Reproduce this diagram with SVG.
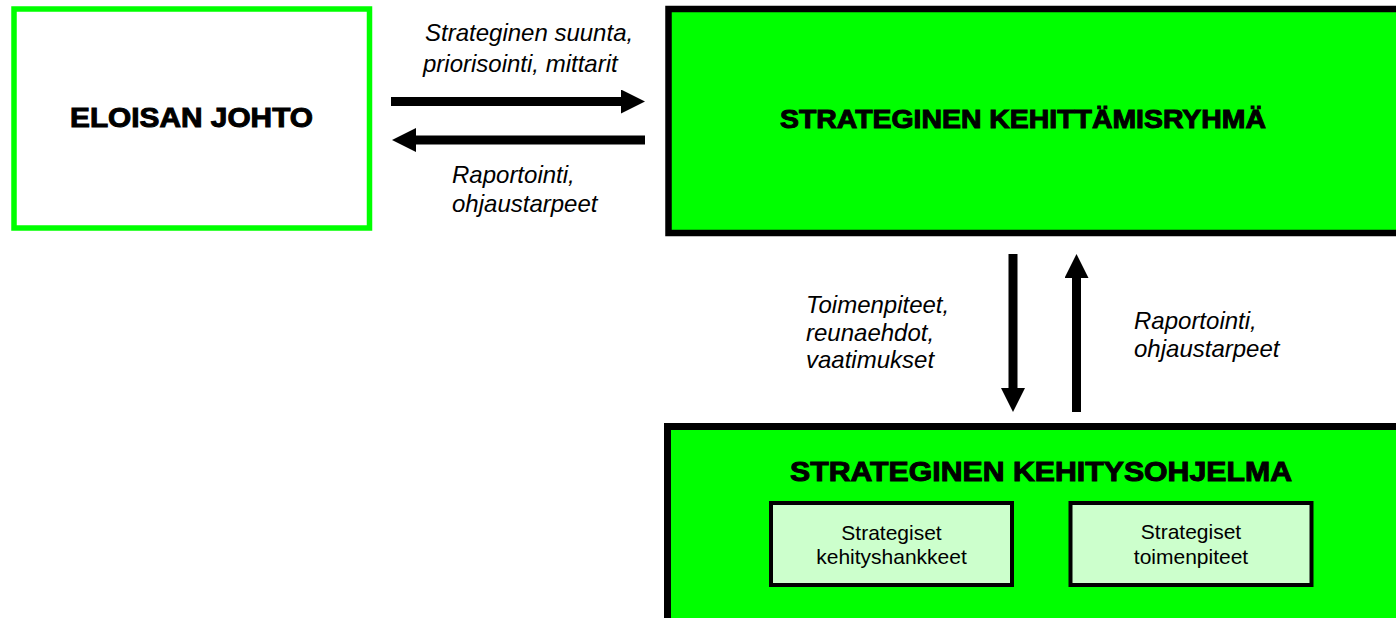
<svg xmlns="http://www.w3.org/2000/svg" width="1396" height="618" viewBox="0 0 1396 618">
<style>
.title{font-family:"Liberation Sans",Arial,sans-serif;font-weight:bold;fill:#000;stroke:#000;stroke-width:1;text-anchor:middle}
.lbl{font-family:"Liberation Sans",Arial,sans-serif;font-style:italic;font-size:24px;fill:#000}
.sub{font-family:"Liberation Sans",Arial,sans-serif;font-size:21px;fill:#000;text-anchor:middle}
.green{fill:#00FF00;stroke:#000}
.inner{fill:#CCFFCC;stroke:#000;stroke-width:4}
.conn{stroke:#000;stroke-width:9;fill:none}
</style>
<defs>
<marker id="head" markerUnits="userSpaceOnUse" markerWidth="24" markerHeight="24" refX="0" refY="12" orient="auto" viewBox="0 0 24 24">
<path d="M0,0 L24,12 L0,24 Z" fill="#000"/>
</marker>
</defs>
<rect width="1396" height="618" fill="#fff"/>
<g id="eloisan-johto">
<rect x="14" y="9" width="355.5" height="219" fill="#fff" stroke="#00FF00" stroke-width="5.5"/>
<text class="title" x="191.5" y="127" font-size="27.5" textLength="243" lengthAdjust="spacingAndGlyphs">ELOISAN JOHTO</text>
</g>
<g id="kehittamisryhma">
<rect class="green" x="668.5" y="9" width="760" height="224" stroke-width="6.5"/>
<text class="title" x="1023" y="127.5" font-size="26" textLength="486" lengthAdjust="spacingAndGlyphs">STRATEGINEN KEHITTÄMISRYHMÄ</text>
</g>
<g id="kehitysohjelma">
<rect class="green" x="667.5" y="426.5" width="760" height="230" stroke-width="7"/>
<text class="title" x="1041" y="481" font-size="27.5" textLength="502" lengthAdjust="spacingAndGlyphs">STRATEGINEN KEHITYSOHJELMA</text>
</g>
<g id="kehityshankkeet">
<rect class="inner" x="771" y="503" width="241" height="82"/>
<text class="sub" x="891.5" y="540">Strategiset</text>
<text class="sub" x="891.5" y="564">kehityshankkeet</text>
</g>
<g id="toimenpiteet">
<rect class="inner" x="1070.5" y="503" width="241" height="82"/>
<text class="sub" x="1191" y="539">Strategiset</text>
<text class="sub" x="1191" y="564">toimenpiteet</text>
</g>
<g id="connectors">
<line class="conn" x1="391" y1="101.5" x2="621" y2="101.5" marker-end="url(#head)"/>
<line class="conn" x1="645" y1="140" x2="416" y2="140" marker-end="url(#head)"/>
<line class="conn" x1="1013" y1="254" x2="1013" y2="388" marker-end="url(#head)"/>
<line class="conn" x1="1076.5" y1="412" x2="1076.5" y2="278" marker-end="url(#head)"/>
<text class="lbl" x="425" y="41">Strateginen suunta,</text>
<text class="lbl" x="423" y="72">priorisointi, mittarit</text>
<text class="lbl" x="452" y="183">Raportointi,</text>
<text class="lbl" x="452" y="212">ohjaustarpeet</text>
<text class="lbl" x="806" y="313">Toimenpiteet,</text>
<text class="lbl" x="806" y="341">reunaehdot,</text>
<text class="lbl" x="806" y="368">vaatimukset</text>
<text class="lbl" x="1134" y="329">Raportointi,</text>
<text class="lbl" x="1134" y="357">ohjaustarpeet</text>
</g>
</svg>
